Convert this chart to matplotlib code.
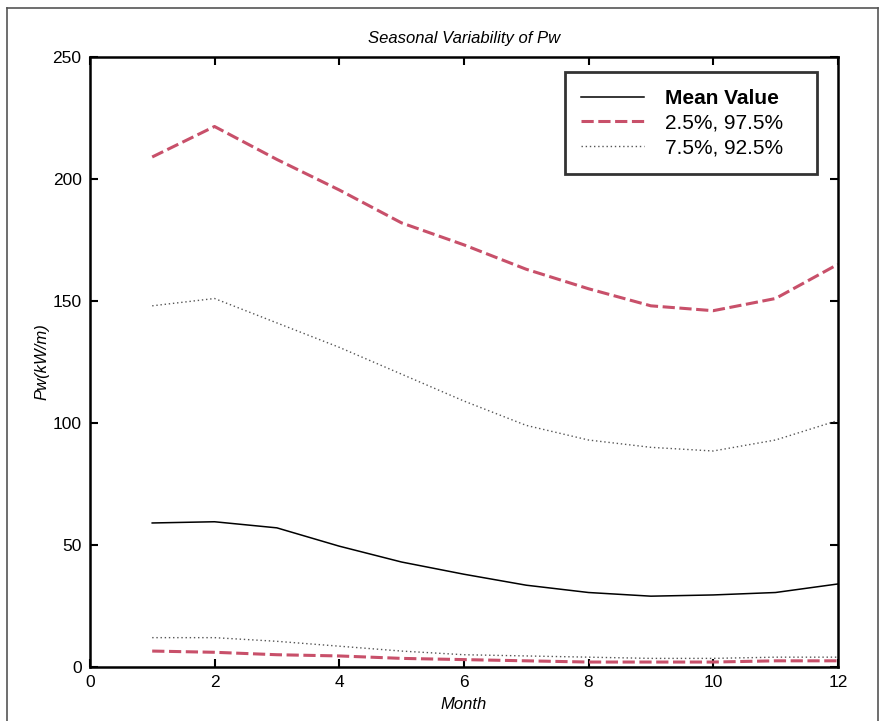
import matplotlib
matplotlib.use('Agg')
import matplotlib.pyplot as plt
from matplotlib.lines import Line2D

plt.rcParams['font.family'] = ['Liberation Sans', 'DejaVu Sans']

months = [1, 2, 3, 4, 5, 6, 7, 8, 9, 10, 11, 12]
mean_value = [59, 59.5, 57, 49.5, 43, 38, 33.5, 30.5, 29, 29.5, 30.5, 34]
p97_5 = [209, 221.5, 208, 195.5, 182, 173, 163, 155, 148, 146, 151, 165]
p92_5 = [148, 151, 141, 131, 120, 109, 99, 93, 90, 88.5, 93, 101]
p7_5 = [12, 12, 10.5, 8.5, 6.5, 5, 4.5, 4, 3.5, 3.5, 4, 4]
p2_5 = [6.5, 6, 5, 4.5, 3.5, 3, 2.5, 2, 2, 2, 2.5, 2.5]

red = '#c8506a'
grey = '#555555'

fig = plt.figure(figsize=(8.81, 7.21), dpi=100)
ax = fig.add_axes([0.102, 0.075, 0.849, 0.846])

ax.plot(months, mean_value, color='black', linewidth=1.1, label='Mean Value')
ax.plot(months, p97_5, color=red, linewidth=2.2, linestyle=(0, (4, 1.5)),
        label='2.5%, 97.5%')
ax.plot(months, p2_5, color=red, linewidth=2.2, linestyle=(0, (4, 1.5)))
ax.plot(months, p92_5, color=grey, linewidth=1.0, linestyle=(0, (1, 2)),
        label='7.5%, 92.5%')
ax.plot(months, p7_5, color=grey, linewidth=1.0, linestyle=(0, (1, 2)))

ax.set_xlim(0, 12)
ax.set_ylim(0, 250)
ax.set_xticks([0, 2, 4, 6, 8, 10, 12])
ax.set_yticks([0, 50, 100, 150, 200, 250])
ax.tick_params(direction='in', length=6, width=1.5, labelsize=12.5, top=True, right=True,
               pad=6)
for s in ax.spines.values():
    s.set_linewidth(1.8)

ax.set_title('Seasonal Variability of Pw', fontsize=12, style='italic', pad=10)
ax.set_xlabel('Month', fontsize=12, style='italic', labelpad=5)
ax.set_ylabel('Pw(kW/m)', fontsize=12, style='italic', labelpad=2)

leg = ax.legend(loc='upper left', bbox_to_anchor=(0.635, 0.811, 0.337, 0.164),
                mode='expand', fontsize=15, frameon=True, fancybox=False,
                edgecolor='black', handlelength=3.0, handletextpad=1.0,
                borderpad=0.8, labelspacing=0.28, borderaxespad=0)
leg.get_frame().set_linewidth(2.0)
leg.get_texts()[0].set_fontweight('bold')

# thin frame around the whole picture
fig.add_artist(Line2D([0.008, 0.008], [0, 0.989], color='#555555', linewidth=1.2))
fig.add_artist(Line2D([0.008, 0.997], [0.989, 0.989], color='#555555', linewidth=1.2))
fig.add_artist(Line2D([0.997, 0.997], [0, 0.989], color='#555555', linewidth=1.2))

fig.savefig('out.png', dpi=100)
